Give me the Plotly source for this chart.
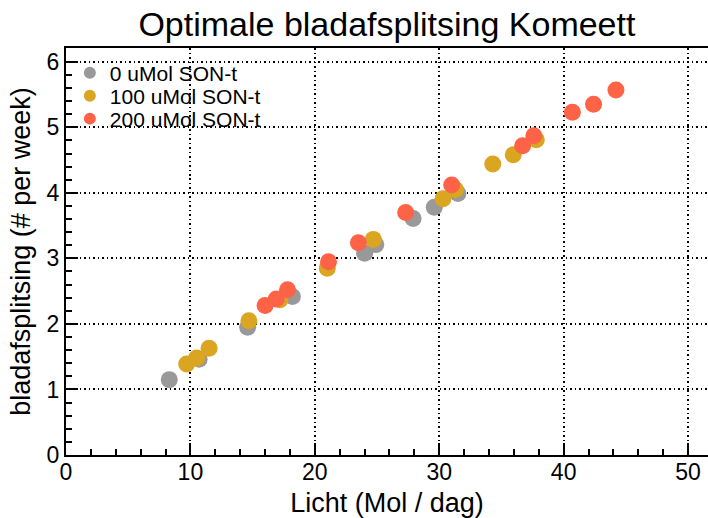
import plotly.graph_objects as go

# Light dose (mol/day) and leaf splitting rate (# per week) per SON-t level
light_0 = [8.3, 10.7, 14.6, 18.2, 24.0, 24.9, 27.9, 29.6, 31.5]
split_0 = [1.15, 1.46, 1.95, 2.42, 3.08, 3.21, 3.61, 3.78, 3.99]

light_100 = [9.7, 10.5, 11.5, 14.7, 17.2, 21.0, 24.7, 30.3, 31.3, 34.3, 35.95, 37.8]
split_100 = [1.39, 1.48, 1.63, 2.05, 2.37, 2.85, 3.29, 3.91, 4.05, 4.44, 4.58, 4.81]

light_200 = [16.0, 16.9, 17.8, 21.1, 23.5, 27.3, 31.0, 36.7, 37.6, 40.7, 42.4, 44.2]
split_200 = [2.28, 2.38, 2.52, 2.95, 3.24, 3.70, 4.12, 4.72, 4.87, 5.23, 5.35, 5.57]

series = [
    ("0 uMol SON-t", light_0, split_0, "#999999"),
    ("100 uMol SON-t", light_100, split_100, "#DAA520"),
    ("200 uMol SON-t", light_200, split_200, "#FF6347"),
]

FONT = "Helvetica, Liberation Sans, Arial, sans-serif"

# one single-entry legend per series so the rows sit tightly stacked
legend_ids = ["legend", "legend2", "legend3"]
legend_rows = [0.9386, 0.882, 0.8256]

fig = go.Figure()
for (name, xs, ys, color), lid in zip(series, legend_ids):
    fig.add_trace(go.Scatter(
        x=xs, y=ys, mode="markers", name=name, legend=lid,
        marker=dict(size=17, color=color, line=dict(width=0)),
    ))

axis_common = dict(
    showline=True, linecolor="black", linewidth=2,
    ticks="inside", ticklen=12, tickwidth=1.5, tickcolor="black",
    showgrid=True, gridcolor="black", gridwidth=1.5, griddash="1.5px,3px",
    zeroline=False,
    tickfont=dict(family=FONT, size=23, color="black"),
)

fig.update_xaxes(
    range=[0, 51.6], dtick=10, tick0=0, mirror=True,
    ticklabelstandoff=-5,
    minor=dict(dtick=2, ticks="inside", ticklen=6, tickcolor="black", showgrid=False),
    title=dict(text="Licht (Mol / dag)", font=dict(family=FONT, size=27, color="black"), standoff=10),
    **axis_common,
)
fig.update_yaxes(
    range=[0, 6.21], dtick=1, tick0=0, mirror=False,
    minor=dict(dtick=0.2, ticks="inside", ticklen=6, tickcolor="black", showgrid=False),
    title=dict(text="bladafsplitsing (# per week)", font=dict(family=FONT, size=27, color="black"), standoff=8),
    **axis_common,
)

legend_style = dict(
    x=0.006, xanchor="left", yanchor="middle",
    bgcolor="rgba(0,0,0,0)", borderwidth=0,
    font=dict(family=FONT, size=21, color="black"),
    itemsizing="constant",
)

fig.update_layout(
    width=708, height=518,
    margin=dict(l=66, r=0, t=48, b=63),
    paper_bgcolor="white", plot_bgcolor="white",
    title=dict(
        text="Optimale bladafsplitsing Komeett",
        font=dict(family=FONT, size=34, color="black"),
        x=0.5465, xanchor="center", xref="container",
        y=1 - 24 / 518, yanchor="middle", yref="container",
    ),
    legend=dict(y=legend_rows[0], **legend_style),
    legend2=dict(y=legend_rows[1], **legend_style),
    legend3=dict(y=legend_rows[2], **legend_style),
    showlegend=True,
)

fig.write_html("out.html")
